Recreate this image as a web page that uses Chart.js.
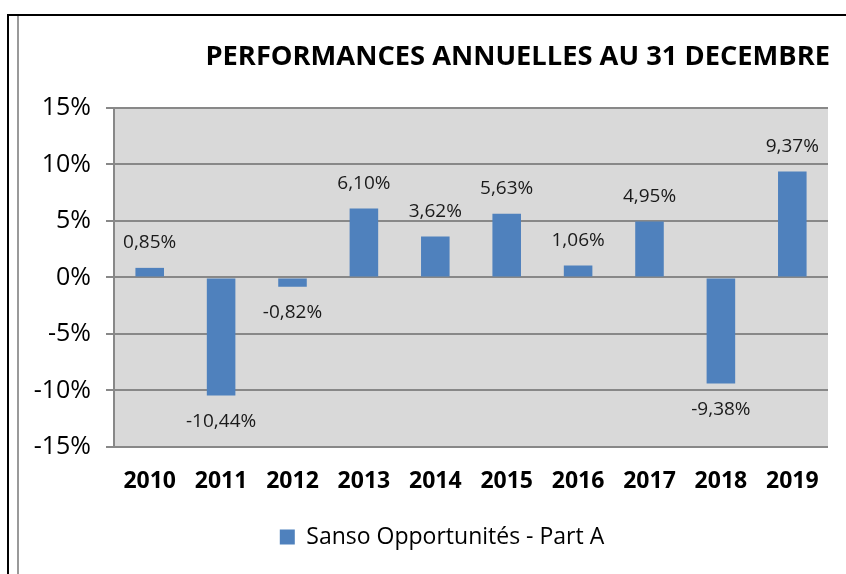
<!DOCTYPE html>
<html lang="fr">
<head>
  <meta charset="UTF-8">
  <title>Performances annuelles au 31 décembre</title>
  <script src="https://cdn.jsdelivr.net/npm/chart.js"></script>
  <style>
    body { margin: 0; background: #fff; }
    .wrap { position: relative; width: 846px; height: 574px; overflow: hidden; }
    .frame { position: absolute; left: 7px; top: 14px; width: 900px; height: 700px;
             border-left: 2px solid #000; border-top: 2px solid #000; }
    .frame2 { position: absolute; left: 17px; top: 16px; width: 10px; height: 700px;
              border-left: 2px solid #9a9a9a; }
    canvas { position: absolute; left: 0; top: 0; }
  </style>
</head>
<body>

<div class="wrap">
  <div class="frame"></div>
  <div class="frame2"></div>
  <canvas id="perfChart" width="846" height="574"></canvas>
</div>

<script>
  // donnees
  const annees = ['2010', '2011', '2012', '2013', '2014', '2015', '2016', '2017', '2018', '2019'];
  const perfs = [0.85, -10.44, -0.82, 6.10, 3.62, 5.63, 1.06, 4.95, -9.38, 9.37];
  const nomSerie = 'Sanso Opportunités - Part A';
  const titre = 'PERFORMANCES ANNUELLES AU 31 DECEMBRE';

  const police = "'Open Sans', 'Liberation Sans', sans-serif";
  const gris = '#888888';

  // fond gris de la zone de tracé
  const fondZone = {
    id: 'fondZone',
    beforeDraw(chart) {
      const { ctx, chartArea: a } = chart;
      ctx.save();
      ctx.fillStyle = '#d9d9d9';
      ctx.fillRect(a.left, a.top, a.right - a.left, a.bottom - a.top);
      ctx.restore();
    }
  };

  // petit décalage du titre et de la légende (comme dans Excel)
  const decalage = {
    id: 'decalage',
    afterLayout(chart) {
      chart.legend.left += 18;
      chart.legend.right += 18;
      chart.titleBlock.left += 2;
      chart.titleBlock.right += 2;
    }
  };

  // étiquettes de valeurs au-dessus / en dessous des barres
  const etiquettes = {
    id: 'etiquettes',
    afterDatasetsDraw(chart) {
      const ctx = chart.ctx;
      const meta = chart.getDatasetMeta(0);
      ctx.save();
      ctx.font = '19px ' + police;
      ctx.fillStyle = '#1a1a1a';
      ctx.textAlign = 'center';
      ctx.textBaseline = 'middle';
      meta.data.forEach((bar, i) => {
        const v = perfs[i];
        const txt = v.toFixed(2).replace('.', ',') + '%';
        const y = v >= 0 ? bar.y - 25 : bar.y + 26;
        ctx.fillText(txt, bar.x, y);
      });
      ctx.restore();
    }
  };

  new Chart(document.getElementById('perfChart'), {
    type: 'bar',
    data: {
      labels: annees,
      datasets: [{
        label: nomSerie,
        data: perfs,
        backgroundColor: '#4f81bd',
        borderWidth: 0,
        barPercentage: 0.4,
        categoryPercentage: 1.0
      }]
    },
    options: {
      responsive: false,
      animation: false,
      layout: { padding: { left: 20, right: 18, top: 0, bottom: 15.5 } },
      plugins: {
        title: {
          display: true,
          text: titre,
          align: 'end',
          color: '#000',
          font: { family: police, size: 27.3, weight: 'bold' },
          padding: { top: 41, bottom: 34.2 }
        },
        legend: {
          position: 'bottom',
          labels: {
            boxWidth: 15,
            boxHeight: 15,
            padding: 10,
            color: '#000',
            font: { family: police, size: 23 }
          }
        },
        tooltip: { enabled: false }
      },
      scales: {
        x: {
          grid: { display: false },
          border: { display: false },
          ticks: {
            color: '#000',
            padding: 13,
            font: { family: police, size: 23, weight: 'bold' }
          },
          afterFit(scale) { scale.height = 68.5; }
        },
        y: {
          min: -15,
          max: 15,
          grid: { color: gris, lineWidth: 2, tickLength: 8 },
          border: { color: gris, width: 2 },
          ticks: {
            stepSize: 5,
            color: '#000',
            padding: 15,
            font: { family: police, size: 25 },
            callback: v => v + '%'
          },
          afterFit(scale) { scale.width = 94; }
        }
      }
    },
    plugins: [fondZone, decalage, etiquettes]
  });
</script>

</body>
</html>
